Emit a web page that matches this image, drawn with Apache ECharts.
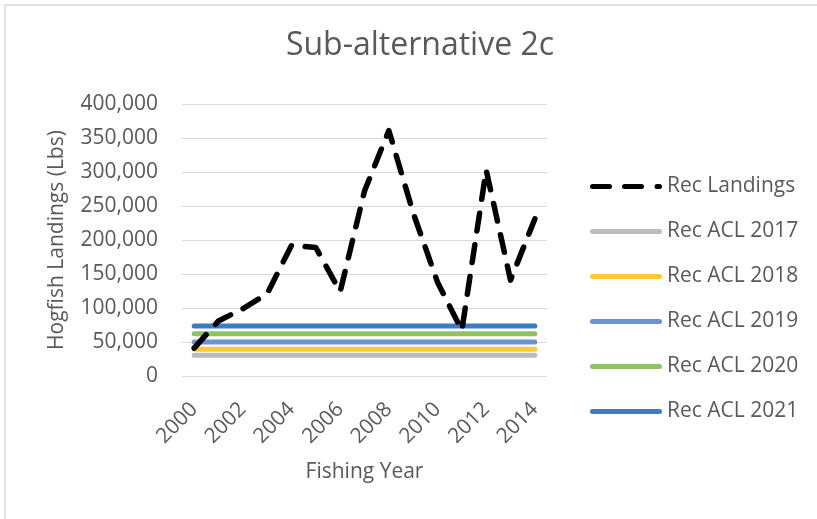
<!DOCTYPE html>
<html>
<head>
<meta charset="utf-8">
<script src="https://cdn.jsdelivr.net/npm/echarts@6/dist/echarts.min.js"></script>
<style>
html,body{margin:0;padding:0;background:#fff;}
#chart{width:817px;height:519px;}
</style>
</head>
<body>
<div id="chart"></div>
<script>
var years = ['2000','2001','2002','2003','2004','2005','2006','2007','2008','2009','2010','2011','2012','2013','2014'];
var recLandings = [41000, 81000, 99000, 121000, 192000, 189000, 124000, 272000, 361000, 240000, 138000, 67000, 303000, 141000, 231000];
var acl2017 = 30500;
var acl2018 = 39500;
var acl2019 = 50000;
var acl2020 = 62000;
var acl2021 = 73500;
var yTicks = [0, 50000, 100000, 150000, 200000, 250000, 300000, 350000, 400000];

function flat(v){ return years.map(function(){ return v; }); }

var FONT = '"Open Sans", sans-serif';
var TXT = '#595959';

var ICON_SOLID = 'path://M2.5,0 H69.5 A2.5,2.5 0 0 1 69.5,5 H2.5 A2.5,2.5 0 0 1 2.5,0 Z';
var ICON_DASH = 'path://M2.5,0 H19.5 A2.5,2.5 0 0 1 19.5,5 H2.5 A2.5,2.5 0 0 1 2.5,0 Z ' +
  'M34.5,0 H51.5 A2.5,2.5 0 0 1 51.5,5 H34.5 A2.5,2.5 0 0 1 34.5,0 Z ' +
  'M67,0 H69.5 A2.5,2.5 0 0 1 69.5,5 H67 A2.5,2.5 0 0 1 67,0 Z';

var chart = echarts.init(document.getElementById('chart'), null, {renderer:'canvas'});

function aclSeries(name, val, color){
  return {
    name: name, type: 'line', data: flat(val), symbol: 'none', showSymbol: false,
    lineStyle: {color: color, width: 5, cap: 'round'},
    itemStyle: {color: color},
    z: 2, silent: true
  };
}

chart.setOption({
  animation: false,
  backgroundColor: '#fff',
  graphic: [{
    type: 'rect', shape: {x: 5, y: 5, width: 900, height: 700},
    style: {fill: 'none', stroke: '#d9d9d9', lineWidth: 1.5}, z: -10
  }],
  title: {
    text: 'Sub-alternative 2c',
    left: 415, top: 25, textAlign: 'center',
    textStyle: {fontFamily: FONT, fontSize: 32, fontWeight: 'normal', color: TXT}
  },
  grid: {left: 182, top: 104, width: 365, height: 272, containLabel: false},
  xAxis: {
    type: 'category', data: years, boundaryGap: true,
    name: 'Fishing Year', nameLocation: 'middle', nameGap: 86,
    nameTextStyle: {fontFamily: FONT, fontSize: 21, color: TXT},
    axisLine: {show: false}, axisTick: {show: false},
    axisLabel: {interval: 1, rotate: 45, margin: 30, fontFamily: FONT, fontSize: 21, color: TXT}
  },
  yAxis: {
    type: 'value', min: yTicks[0], max: yTicks[yTicks.length-1], interval: 50000,
    name: 'Hogfish Landings (Lbs)', nameLocation: 'middle', nameGap: 114, nameRotate: 90,
    nameTextStyle: {fontFamily: FONT, fontSize: 21, color: TXT},
    axisLine: {show: false}, axisTick: {show: false},
    splitLine: {lineStyle: {color: '#d9d9d9', width: 1}},
    axisLabel: {margin: 24, fontFamily: FONT, fontSize: 21, color: TXT,
      formatter: function(v){ return v.toString().replace(/\B(?=(\d{3})+(?!\d))/g, ','); }}
  },
  legend: {
    orient: 'vertical', left: 585, top: 171,
    itemWidth: 72, itemHeight: 5, itemGap: 24,
    textStyle: {fontFamily: FONT, fontSize: 21, color: TXT},
    data: [
      {name: 'Rec Landings', icon: ICON_DASH},
      {name: 'Rec ACL 2017', icon: ICON_SOLID},
      {name: 'Rec ACL 2018', icon: ICON_SOLID},
      {name: 'Rec ACL 2019', icon: ICON_SOLID},
      {name: 'Rec ACL 2020', icon: ICON_SOLID},
      {name: 'Rec ACL 2021', icon: ICON_SOLID}
    ]
  },
  series: [
    {
      name: 'Rec Landings', type: 'line', data: recLandings, symbol: 'none', showSymbol: false,
      lineStyle: {color: '#000', width: 5.5, type: [18, 14], cap: 'round', join: 'round'},
      itemStyle: {color: '#000'}, z: 3, silent: true
    },
    aclSeries('Rec ACL 2017', acl2017, '#bcbcbc'),
    aclSeries('Rec ACL 2018', acl2018, '#fec931'),
    aclSeries('Rec ACL 2019', acl2019, '#6b92d3'),
    aclSeries('Rec ACL 2020', acl2020, '#8dc16a'),
    aclSeries('Rec ACL 2021', acl2021, '#3b7dc3')
  ]
});
</script>
</body>
</html>
